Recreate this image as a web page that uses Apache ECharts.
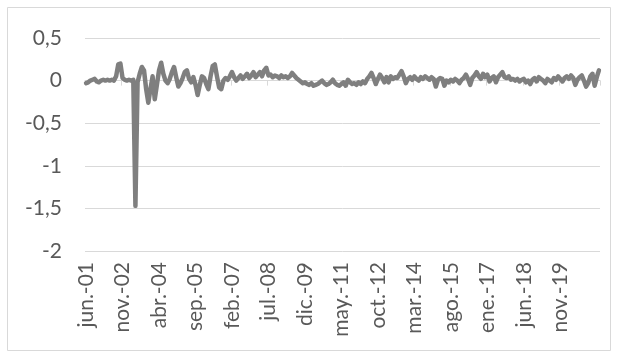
<!DOCTYPE html>
<html><head><meta charset="utf-8">
<script src="https://cdn.jsdelivr.net/npm/echarts@6/dist/echarts.min.js"></script>
<style>html,body{margin:0;padding:0;background:#fff}#c{width:618px;height:358px}</style>
</head><body><div id="c"></div>
<script>
const monthNames = ['ene','feb','mar','abr','may','jun','jul','ago','sep','oct','nov','dic'];
const startYear = 2001, startMonth = 5; // jun 2001
const values = [
 -0.03,-0.02,0.0,0.01,0.02,-0.01,-0.02,0.0,0.01,0.0,
 0.01,0.0,0.01,0.0,0.05,0.19,0.2,0.03,0.01,0.0,
 0.01,0.0,0.01,-1.47,-0.02,0.08,0.16,0.12,-0.1,-0.26,
 -0.1,0.05,-0.22,-0.05,0.12,0.21,0.08,0.0,-0.03,0.02,
 0.1,0.16,0.04,-0.07,-0.03,0.03,0.1,0.12,0.02,-0.02,
 0.04,-0.05,-0.17,-0.05,0.05,0.03,-0.04,-0.1,0.05,0.17,
 0.19,0.05,-0.08,-0.1,0.0,0.03,0.01,0.05,0.1,0.04,
 0.0,0.03,0.06,0.02,0.05,0.08,0.03,0.06,0.1,0.04,
 0.07,0.1,0.05,0.12,0.15,0.06,0.07,0.04,0.06,0.05,
 0.03,0.06,0.04,0.05,0.03,0.05,0.09,0.06,0.03,0.01,
 -0.01,-0.03,-0.02,-0.04,-0.05,-0.03,-0.06,-0.05,-0.04,-0.02,
 0.0,-0.03,-0.05,-0.04,-0.02,0.01,-0.03,-0.05,-0.06,-0.04,
 -0.02,-0.06,0.01,-0.02,-0.04,-0.03,-0.05,-0.02,-0.04,-0.01,
 -0.03,0.02,0.05,0.09,0.03,-0.04,0.02,0.07,0.03,-0.02,
 0.04,-0.02,0.05,0.02,0.04,0.03,0.07,0.11,0.05,-0.03,
 0.02,0.04,0.01,0.05,0.02,0.0,0.04,0.02,0.05,0.03,
 0.01,0.04,0.02,-0.07,0.01,0.03,0.02,-0.06,0.0,-0.02,
 0.01,-0.01,0.02,0.0,-0.03,0.01,0.03,0.07,0.02,-0.05,
 0.03,0.06,0.1,0.05,0.02,0.08,0.04,0.07,-0.01,0.03,
 0.05,-0.02,0.04,0.07,0.1,0.04,0.03,0.05,0.01,0.02,
 0.0,0.02,-0.01,0.01,0.02,-0.02,0.0,-0.04,0.01,0.03,
 -0.01,0.04,0.02,0.0,-0.03,0.02,0.0,-0.02,0.03,0.01,
 0.05,0.02,-0.01,0.03,0.05,0.02,0.06,0.03,-0.05,0.01,
 0.04,0.06,0.0,-0.07,-0.03,0.05,0.08,-0.06,0.04,0.12
];
const categories = values.map((v,i)=>{
  const m = (startMonth + i) % 12;
  const y = startYear + Math.floor((startMonth + i)/12);
  return monthNames[m] + '.-' + String(y % 100).padStart(2,'0');
});
const yTicks = {min:-2, max:0.5, interval:0.5};
const labelStep = 17, lastLabelIndex = 221;

const chart = echarts.init(document.getElementById('c'), null, {renderer:'canvas'});
const font = 'Lato';
chart.setOption({
  animation:false,
  backgroundColor:'#fff',
  graphic:[{type:'rect', shape:{x:7.5,y:7.5,width:603,height:343}, style:{fill:'none', stroke:'#d9d9d9', lineWidth:1}, silent:true}],
  grid:{left:85, right:18, top:38, bottom:107, containLabel:false},
  xAxis:[{
    type:'category', data:categories, boundaryGap:true,
    axisLine:{onZero:true, lineStyle:{color:'#d9d9d9', width:1}},
    axisTick:{show:true, interval:labelStep-1, length:5, lineStyle:{color:'#d9d9d9'}},
    axisLabel:{show:false},
    splitLine:{show:false}
  },{
    type:'category', data:categories, boundaryGap:true, position:'bottom',
    axisLine:{show:false, onZero:false},
    axisTick:{show:false},
    axisLabel:{interval:(i)=> i % labelStep === 0 && i <= lastLabelIndex,
      rotate:90, margin:11, color:'#595959', fontSize:21, fontFamily:font},
    splitLine:{show:false}
  }],
  yAxis:{
    type:'value', min:yTicks.min, max:yTicks.max, interval:yTicks.interval,
    axisLine:{show:false}, axisTick:{show:false},
    axisLabel:{margin:23, color:'#595959', fontSize:21, fontFamily:font,
      formatter:v=>String(v).replace('.',',')},
    splitLine:{lineStyle:{color:'#d9d9d9', width:1}}
  },
  series:[{
    type:'line', data:values, xAxisIndex:0, symbol:'none', smooth:false,
    lineStyle:{color:'#7f7f7f', width:4.5, cap:'round', join:'round'}
  }]
});
</script></body></html>
